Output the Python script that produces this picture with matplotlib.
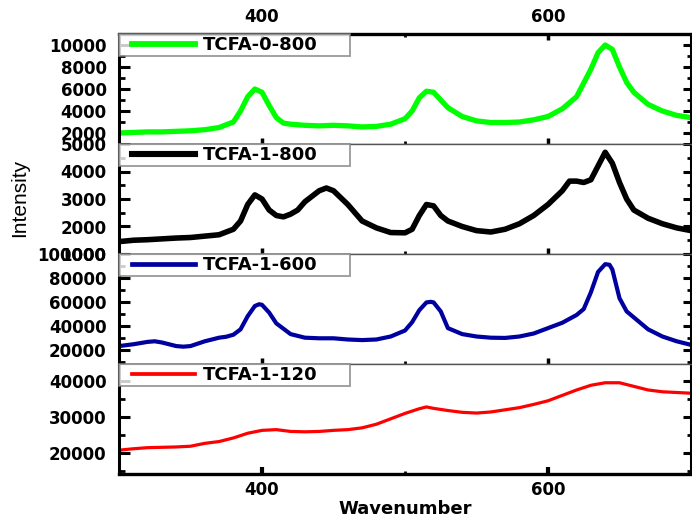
import matplotlib
matplotlib.use("Agg")
import matplotlib.pyplot as plt
from matplotlib.ticker import MultipleLocator, FixedLocator
from matplotlib.legend_handler import HandlerLine2D
from matplotlib import font_manager

# ---------------- data ----------------
x_green = [300, 310, 320, 330, 340, 350, 360, 370, 380, 385, 390, 395, 400, 405, 410, 415, 420,
           430, 440, 450, 460, 470, 480, 490, 500, 505, 510, 515, 520, 525, 530, 540, 550, 560,
           570, 580, 590, 600, 610, 620, 630, 635, 640, 645, 650, 655, 660, 670, 680, 690, 700]
y_green = [2000, 2050, 2100, 2100, 2150, 2200, 2300, 2500, 3000, 4000, 5300, 6000, 5700, 4500,
           3400, 2900, 2800, 2700, 2650, 2700, 2650, 2550, 2600, 2800, 3300, 4000, 5200, 5800,
           5700, 5000, 4300, 3500, 3100, 2950, 2950, 3000, 3200, 3500, 4200, 5300, 7800, 9300,
           10000, 9600, 8000, 6600, 5700, 4600, 4000, 3600, 3400]

x_black = [300, 310, 320, 330, 340, 350, 360, 370, 380, 385, 390, 395, 400, 405, 410, 415, 420,
           425, 430, 440, 445, 450, 460, 470, 480, 490, 500, 505, 510, 515, 520, 525, 530, 540,
           550, 560, 570, 580, 590, 600, 610, 615, 620, 625, 630, 635, 640, 645, 650, 655, 660,
           670, 680, 690, 700]
y_black = [1450, 1500, 1520, 1550, 1580, 1600, 1650, 1700, 1900, 2200, 2800, 3150, 3000, 2600,
           2400, 2350, 2450, 2600, 2900, 3300, 3400, 3300, 2800, 2200, 1950, 1780, 1770, 1900,
           2400, 2800, 2750, 2400, 2200, 2000, 1850, 1800, 1900, 2100, 2400, 2800, 3300, 3650,
           3650, 3600, 3700, 4200, 4700, 4300, 3600, 3000, 2600, 2300, 2100, 1950, 1850]

x_blue = [300, 310, 320, 325, 330, 340, 345, 350, 360, 370, 375, 380, 385, 390, 395, 398, 400,
          405, 410, 420, 430, 440, 450, 460, 470, 480, 490, 500, 505, 510, 515, 518, 520, 525,
          530, 540, 550, 560, 570, 580, 590, 600, 610, 620, 625, 630, 635, 640, 643, 645, 650,
          655, 660, 670, 680, 690, 700]
y_blue = [23000, 24500, 26500, 27000, 26000, 23000, 22500, 23000, 27000, 30000, 30800, 32500,
          37000, 48000, 56500, 58000, 57500, 51000, 42000, 33000, 30000, 29500, 29500, 28500,
          28000, 28500, 31000, 36000, 43000, 53000, 59500, 60000, 59500, 52000, 38000, 33000,
          31000, 30000, 29800, 31000, 33500, 38000, 42500, 49000, 54000, 68000, 85000, 91500,
          91000, 87000, 63000, 52000, 47000, 37000, 31000, 27000, 24000]

x_red = [300, 310, 320, 330, 340, 350, 360, 370, 380, 390, 400, 410, 420, 430, 440, 450, 460,
         470, 480, 490, 500, 510, 515, 520, 530, 540, 550, 560, 570, 580, 590, 600, 610, 620,
         630, 640, 650, 660, 670, 680, 690, 700]
y_red = [20800, 21200, 21500, 21600, 21700, 21900, 22700, 23200, 24200, 25500, 26300, 26500,
         26000, 25900, 26000, 26300, 26500, 27000, 28000, 29500, 31000, 32300, 32800, 32400,
         31800, 31300, 31100, 31400, 32000, 32600, 33500, 34500, 36000, 37500, 38800, 39500,
         39500, 38500, 37500, 37000, 36800, 36600]

labels = ["TCFA-0-800", "TCFA-1-800", "TCFA-1-600", "TCFA-1-120"]
colors = ["#00FF00", "#000000", "#0000A0", "#FF0000"]
x_ticks = [400, 600]

# ---------------- styling ----------------
plt.rcParams["font.family"] = ["DejaVu Sans"]
plt.rcParams["font.weight"] = "bold"
plt.rcParams["xtick.labelsize"] = 12
plt.rcParams["ytick.labelsize"] = 12

avail = {f.name for f in font_manager.fontManager.ttflist}
narrow = "Liberation Sans Narrow" if "Liberation Sans Narrow" in avail else "Liberation Sans"


class PaddedLine(HandlerLine2D):
    """Legend line handle with some empty space on its left."""
    def __init__(self, lpad=0.58, **kw):
        super().__init__(**kw)
        self.lpad = lpad

    def create_artists(self, legend, orig_handle, xdescent, ydescent, width, height,
                       fontsize, trans):
        p = self.lpad * fontsize
        return super().create_artists(legend, orig_handle, xdescent - p, ydescent,
                                      width - p, height, fontsize, trans)


fig = plt.figure(figsize=(6.92, 5.18), dpi=100)
axes = fig.subplots(4, 1, sharex=True, gridspec_kw=dict(hspace=0))
fig.subplots_adjust(left=119/692, right=691/692, top=1-34/518, bottom=1-474/518)

series = [(x_green, y_green), (x_black, y_black), (x_blue, y_blue), (x_red, y_red)]
lws = [3.8, 4.0, 3.0, 2.3]
ylims = [(1000, 11000), (1000, 5000), (8000, 100000), (14200, 44700)]
ymaj = [[2000, 4000, 6000, 8000, 10000], [1000, 2000, 3000, 4000, 5000],
        [20000, 40000, 60000, 80000, 100000], [20000, 30000, 40000]]
ymin = [1000, 500, 10000, 5000]

for i, ax in enumerate(axes):
    xs, ys = series[i]
    ln, = ax.plot(xs, ys, color=colors[i], lw=lws[i], label=labels[i], solid_joinstyle="round")
    ax.set_xlim(300, 700)
    ax.set_ylim(*ylims[i])
    ax.yaxis.set_major_locator(FixedLocator(ymaj[i]))
    ax.yaxis.set_minor_locator(MultipleLocator(ymin[i]))
    ax.xaxis.set_major_locator(FixedLocator(x_ticks))
    ax.xaxis.set_minor_locator(MultipleLocator(100))
    ax.tick_params(axis="y", which="major", direction="in", length=8, width=2.2,
                   right=True, pad=9)
    ax.tick_params(axis="y", which="minor", direction="in", length=4, width=2.0, right=True)
    ax.tick_params(axis="x", which="major", direction="in", length=4.5, width=2.5, pad=5)
    ax.tick_params(axis="x", which="minor", direction="in", length=2, width=2.0)
    for t in ax.yaxis.get_major_ticks():
        t.tick2line.set_markersize(6)
    for t in ax.yaxis.get_minor_ticks():
        t.tick2line.set_markersize(3)
    for s in ["left", "right"]:
        ax.spines[s].set_linewidth(2.2)
    ax.spines["top"].set_linewidth(1.0 if i > 0 else 2.4)
    ax.spines["bottom"].set_linewidth(1.0 if i < 3 else 2.4)
    if i > 0:
        ax.spines["top"].set_color("#555555")
    if i < 3:
        ax.spines["bottom"].set_color("#555555")
    leg = ax.legend(loc="upper left", bbox_to_anchor=(0, 1, 0.404, 0), mode="expand",
                    borderaxespad=0, fancybox=False, borderpad=0.12, handlelength=4.1,
                    handletextpad=0.45, handler_map={ln: PaddedLine(lpad=0.58)},
                    prop=dict(family="DejaVu Sans", weight="bold", size=13))
    leg.get_frame().set_edgecolor("#808080")
    leg.get_frame().set_linewidth(1.3)
    for l in leg.get_lines():
        l.set_linewidth(lws[i] + 0.4)

axes[0].tick_params(axis="x", which="both", top=True, labeltop=True, labelbottom=False)
axes[0].tick_params(axis="x", which="major", pad=6)
axes[3].tick_params(axis="x", which="major", length=5, width=3)
axes[3].set_xlabel("Wavenumber", fontdict=dict(family="DejaVu Sans", weight="bold", size=13),
                   labelpad=1)
fig.text(20/692, 1-198/518, "Intensity", rotation=90, ha="center", va="center",
         family=narrow, weight="normal", size=15)

fig.savefig("out.png", dpi=100)
